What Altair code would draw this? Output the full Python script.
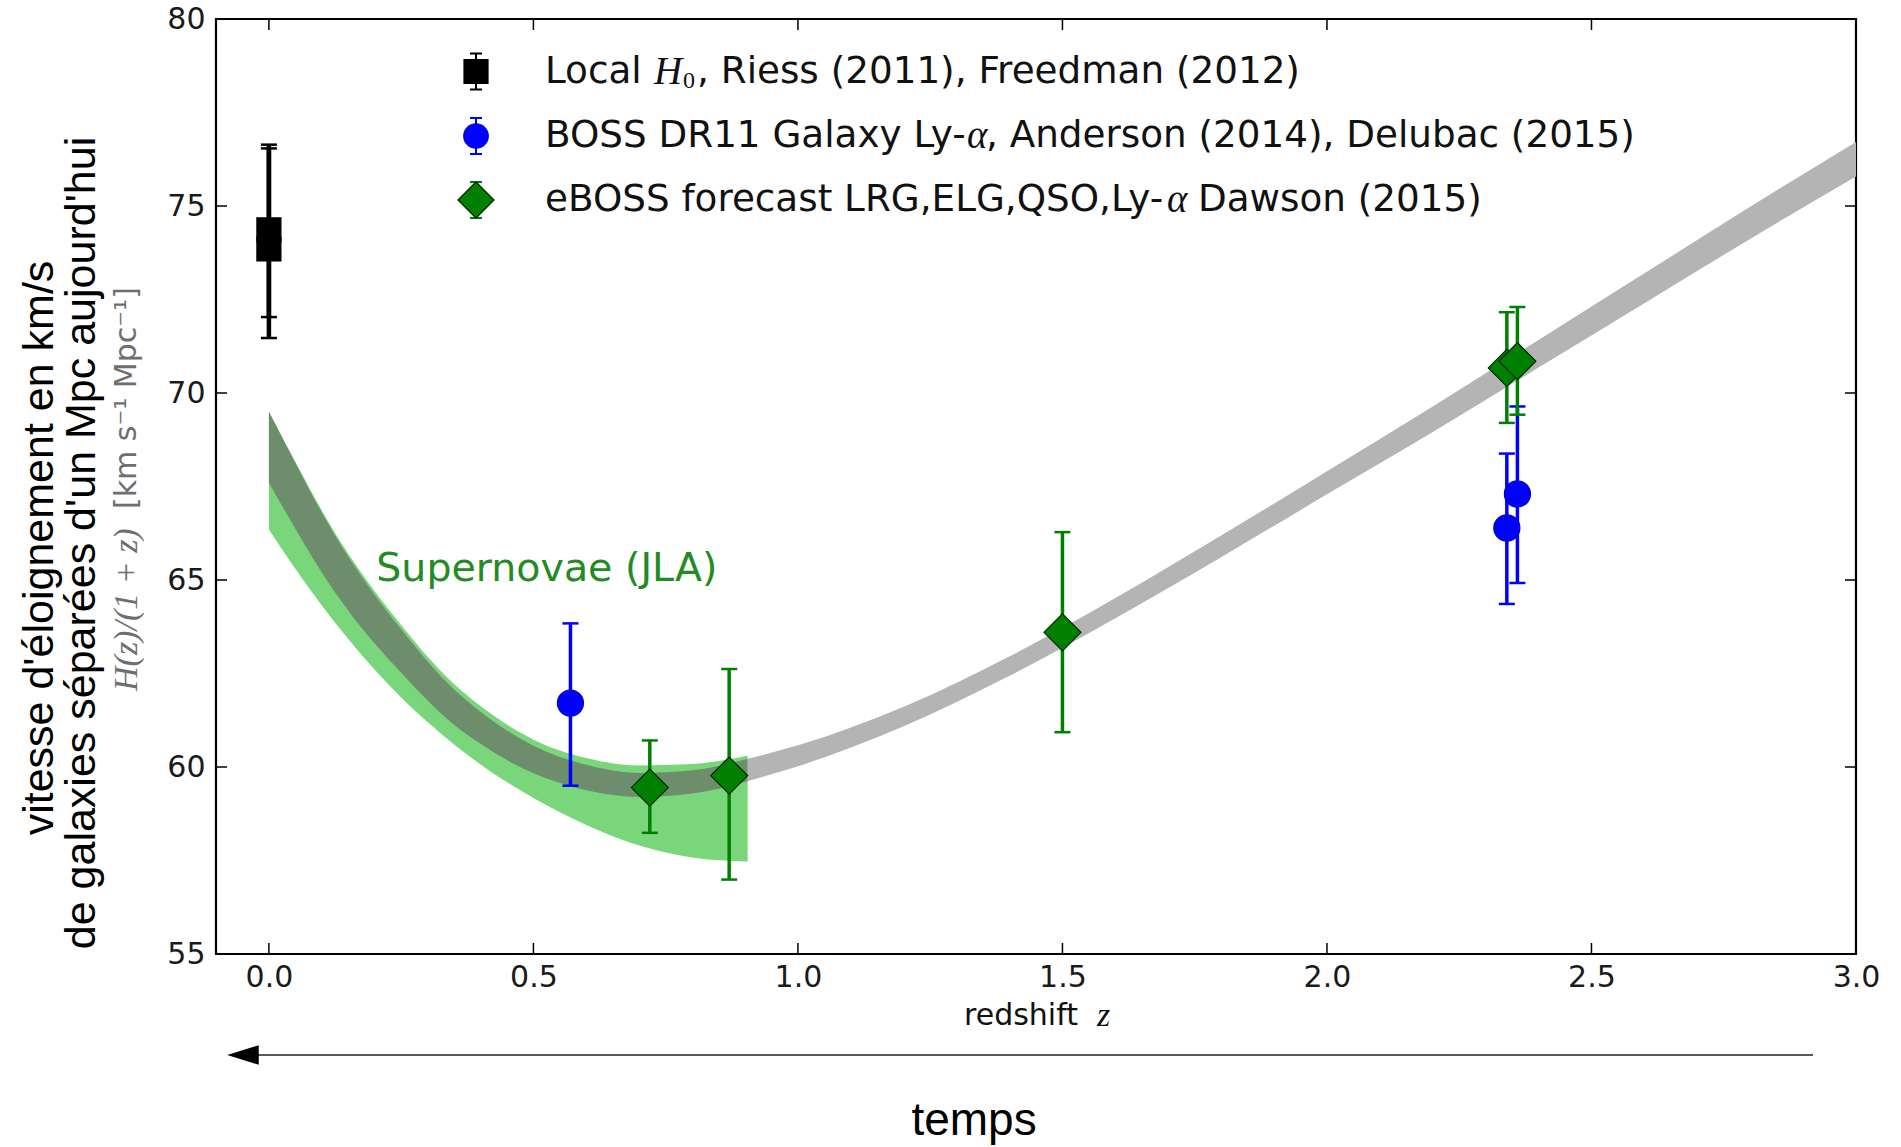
import altair as alt
import pandas as pd

# ---------------------------------------------------------------------------
# Data
# ---------------------------------------------------------------------------
# Grey model band of H(z)/(1+z), lower and upper edges at each redshift
band_z = [0.0, 0.05, 0.1, 0.15, 0.2, 0.25, 0.3, 0.35, 0.4, 0.5, 0.6, 0.7, 0.8,
          0.905, 1.0, 1.2, 1.4, 1.6, 1.8, 2.0, 2.2, 2.4, 2.6, 2.8, 3.0]
band_lo = [67.60, 66.37, 65.20, 64.18, 63.30, 62.52, 61.78, 61.13, 60.62, 59.83,
           59.38, 59.20, 59.29, 59.62, 60.02, 61.09, 62.44, 63.98, 65.61, 67.29,
           68.96, 70.68, 72.40, 74.12, 75.79]
band_hi = [69.50, 68.13, 66.80, 65.62, 64.60, 63.68, 62.82, 62.07, 61.48, 60.57,
           60.06, 59.84, 59.91, 60.22, 60.58, 61.61, 62.96, 64.52, 66.19, 67.91,
           69.64, 71.42, 73.20, 74.98, 76.71]

# Supernovae (JLA) band
jla_z = [0.0, 0.05, 0.1, 0.15, 0.2, 0.25, 0.3, 0.35, 0.4, 0.5, 0.6, 0.7, 0.8, 0.905]
jla_lo = [66.35, 65.30, 64.32, 63.42, 62.60, 61.86, 61.20, 60.60, 60.07, 59.17,
          58.45, 57.90, 57.58, 57.47]
jla_hi = [69.50, 68.16, 66.86, 65.70, 64.70, 63.80, 62.95, 62.22, 61.63, 60.73,
          60.24, 60.04, 60.08, 60.30]

# Local H0 (Riess 2011, Freedman 2012)
h0_z = [0.0, 0.0]
h0_val = [73.85, 74.36]
h0_lo = [71.47, 72.03]
h0_hi = [76.54, 76.64]

# BOSS DR11 galaxy and Ly-alpha BAO
boss_z = [0.57, 2.34, 2.36]
boss_val = [61.71, 66.39, 67.30]
boss_lo = [59.50, 64.36, 64.92]
boss_hi = [63.84, 68.38, 69.64]

# eBOSS forecast
eboss_z = [0.72, 0.87, 1.50, 2.34, 2.36]
eboss_val = [59.45, 59.77, 63.60, 70.67, 70.85]
eboss_lo = [58.24, 56.99, 60.93, 69.20, 69.42]
eboss_hi = [60.71, 62.62, 66.28, 72.16, 72.30]

x_ticks = [0.0, 0.5, 1.0, 1.5, 2.0, 2.5, 3.0]
y_ticks = [55, 60, 65, 70, 75, 80]

legend_labels = [
    ["Local ", "H", "0", ", Riess (2011), Freedman (2012)"],
    ["BOSS DR11 Galaxy Ly-", "\u03b1", ", Anderson (2014), Delubac (2015)"],
    ["eBOSS forecast LRG,ELG,QSO,Ly-", "\u03b1", "Dawson (2015)"],
]

# ---------------------------------------------------------------------------
# Chart
# ---------------------------------------------------------------------------
W, H = 1640, 935
SANS = "DejaVu Sans"
SERIF = "Liberation Serif"
ARIAL = "Liberation Sans"
FS = 37.3  # legend text size

xs = alt.Scale(domain=[-0.1, 3.0], nice=False, zero=False)
ys = alt.Scale(domain=[55, 80], nice=False, zero=False)

x_axis = alt.Axis(values=x_ticks, format=".1f", title=None, grid=False, domain=False,
                  ticks=False, tickSize=0, labelPadding=8, labelFont=SANS,
                  labelFontSize=30, labelColor="#1a1a1a", labelFlush=False,
                  labelOverlap=False)
y_axis = alt.Axis(values=y_ticks, format="d", title=None, grid=False, domain=False,
                  ticks=False, tickSize=0, labelPadding=11, labelFont=SANS,
                  labelFontSize=30, labelColor="#1a1a1a", labelFlush=False,
                  labelOverlap=False)


def X(field):
    return alt.X(field, type="quantitative", scale=xs, axis=x_axis)


def Y(field):
    return alt.Y(field, type="quantitative", scale=ys, axis=y_axis)


band = pd.DataFrame({"z": band_z, "lo": band_lo, "hi": band_hi})
jla = pd.DataFrame({"z": jla_z, "lo": jla_lo, "hi": jla_hi})
h0 = pd.DataFrame({"z": h0_z, "v": h0_val, "lo": h0_lo, "hi": h0_hi})
boss = pd.DataFrame({"z": boss_z, "v": boss_val, "lo": boss_lo, "hi": boss_hi})
eboss = pd.DataFrame({"z": eboss_z, "v": eboss_val, "lo": eboss_lo, "hi": eboss_hi})

JLA_END = jla_z[-1]
band_in = band[band["z"] <= JLA_END]
band_out = band[band["z"] >= JLA_END]


def area(df, color):
    return alt.Chart(df).mark_area(color=color, opacity=1, interpolate="monotone").encode(
        x=X("z"), y=Y("lo"), y2="hi:Q")


layers = []
layers.append(area(jla, "#7AD67A"))
layers.append(area(band_in, "#6D8D6D"))
layers.append(area(band_out, "#B4B4B4"))

# inward ticks on all four sides
xt = pd.DataFrame({"z": x_ticks})
yt = pd.DataFrame({"v": y_ticks})
TL = 11
for y0, y1 in [(H, H - TL), (0, TL)]:
    layers.append(alt.Chart(xt).mark_rule(color="black", strokeWidth=1.5).encode(
        x=X("z"), y=alt.value(y0), y2=alt.value(y1)))
for x0, x1 in [(0, TL), (W, W - TL)]:
    layers.append(alt.Chart(yt).mark_rule(color="black", strokeWidth=1.5).encode(
        y=Y("v"), x=alt.value(x0), x2=alt.value(x1)))

# Supernovae label
layers.append(
    alt.Chart().mark_text(font=SANS, fontSize=39.5, color="#238B23", align="left",
                          baseline="middle")
    .encode(x=alt.XDatum(0.203, scale=xs, axis=x_axis),
            y=alt.YDatum(65.3, scale=ys, axis=y_axis),
            text=alt.value("Supernovae (JLA)"))
)


def errorbars(df, color, width, cap_w, shape, size, stroke):
    lay = []
    lay.append(alt.Chart(df).mark_rule(color=color, strokeWidth=width).encode(
        x=X("z"), y=Y("lo"), y2="hi:Q"))
    for col in ["lo", "hi"]:
        lay.append(alt.Chart(df).mark_rule(color=color, strokeWidth=2.5,
                                           xOffset=-cap_w / 2, x2Offset=cap_w / 2).encode(
            x=X("z"), x2="z:Q", y=Y(col)))
    lay.append(alt.Chart(df).mark_point(shape=shape, filled=True, size=size, color=color,
                                        stroke=stroke, strokeWidth=1.2, opacity=1).encode(
        x=X("z"), y=Y("v")))
    return lay


layers += errorbars(h0, "black", 4.5, 16, "square", 576, "black")
layers += errorbars(boss, "#0000FF", 3.5, 16, "circle", 680, "#0000CC")
layers += errorbars(eboss, "#008000", 3.5, 16, "diamond", 1369, "#002800")

# legend
LX = 260
legend_rows = [52.5, 117, 181]
legend_marks = [("black", "square", 576, "black"),
                ("#0000FF", "circle", 600, "#0000CC"),
                ("#008000", "diamond", 1300, "#002800")]
for ry, (col, shp, sz, stk) in zip(legend_rows, legend_marks):
    layers.append(alt.Chart().mark_rule(color=col, strokeWidth=2).encode(
        x=alt.value(LX), y=alt.value(ry - 18), y2=alt.value(ry + 18)))
    for yy in (ry - 18, ry + 18):
        layers.append(alt.Chart().mark_rule(color=col, strokeWidth=2).encode(
            x=alt.value(LX - 6), x2=alt.value(LX + 6), y=alt.value(yy)))
    layers.append(alt.Chart().mark_point(shape=shp, filled=True, size=sz, color=col,
                                         stroke=stk, strokeWidth=1.2, opacity=1).encode(
        x=alt.value(LX), y=alt.value(ry)))


def txt(s, x, y, font=SANS, size=FS, style="normal", color="#111111", align="left",
        angle=0):
    return alt.Chart().mark_text(font=font, fontSize=size, fontStyle=style, color=color,
                                 align=align, baseline="middle", angle=angle).encode(
        x=alt.value(x), y=alt.value(y), text=alt.value(s))


TX = 329
r1, r2, r3 = legend_labels
layers.append(txt(r1[0], TX, legend_rows[0]))
layers.append(txt(r1[1], 438, legend_rows[0], font=SERIF, size=39, style="italic"))
layers.append(txt(r1[2], 467, legend_rows[0] + 9, font=SERIF, size=24))
layers.append(txt(r1[3], 481, legend_rows[0]))
layers.append(txt(r2[0], TX, legend_rows[1]))
layers.append(txt(r2[1], 751, legend_rows[1], font=SERIF, size=39, style="italic"))
layers.append(txt(r2[2], 770, legend_rows[1]))
layers.append(txt(r3[0], TX, legend_rows[2]))
layers.append(txt(r3[1], 951, legend_rows[2], font=SERIF, size=39, style="italic"))
layers.append(txt(r3[2], 982, legend_rows[2]))

# axis titles
layers.append(txt("redshift", 748, 997, size=30))
layers.append(txt("z", 881, 997, font=SERIF, size=34, style="italic"))
layers.append(txt("vitesse d'\u00e9loignement en km/s", -176, 529, font=ARIAL, size=43,
                  color="black", align="center", angle=270))
layers.append(txt("de galaxies s\u00e9par\u00e9es d'un Mpc aujourd'hui", -134, 524,
                  font=ARIAL, size=43, color="black", align="center", angle=270))
layers.append(txt("H(z)/(1 + z)", -89, 672, font=SERIF, size=34, style="italic",
                  color="#6e6e6e", angle=270))
layers.append(txt("[km s\u207b\u00b9 Mpc\u207b\u00b9]", -89, 490, size=30,
                  color="#6e6e6e", angle=270))

# time arrow
layers.append(alt.Chart().mark_rule(color="#222222", strokeWidth=1.5).encode(
    x=alt.value(40), x2=alt.value(1597), y=alt.value(1036)))
layers.append(alt.Chart().mark_point(shape="M -1 0 L 1 -0.62 L 1 0.62 Z", filled=True,
                                     size=992, color="black", opacity=1).encode(
    x=alt.value(27), y=alt.value(1036)))
layers.append(txt("temps", 758, 1102, font=ARIAL, size=46, color="black", align="center"))

chart = (
    alt.layer(*layers)
    .properties(width=W, height=H,
                padding={"left": 216, "top": 19, "right": 45, "bottom": 193},
                autosize=alt.AutoSizeParams(type="none"), background="white")
    .configure_view(stroke="black", strokeWidth=2.2)
)

chart.save("out.html", embed_options={"renderer": "svg", "actions": False})
